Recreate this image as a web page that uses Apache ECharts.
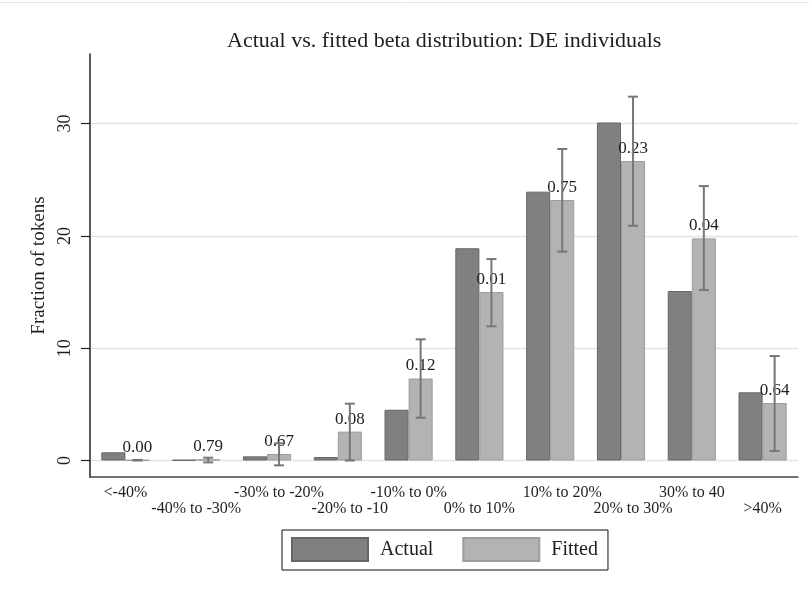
<!DOCTYPE html>
<html>
<head>
<meta charset="utf-8">
<script src="https://cdn.jsdelivr.net/npm/echarts@6/dist/echarts.min.js"></script>
<style>
html,body{margin:0;padding:0;background:#fff;}
#c{width:809px;height:592px;}
</style>
</head>
<body>
<div id="c"></div>
<script>
const categories = ['<-40%', '-40% to -30%', '-30% to -20%', '-20% to -10', '-10% to 0%', '0% to 10%', '10% to 20%', '20% to 30%', '30% to 40', '>40%'];
const actual = [0.73, 0.05, 0.37, 0.31, 4.52, 18.9, 23.94, 30.1, 15.09, 6.07];
const fitted = [0.03, 0.1, 0.58, 2.57, 7.3, 15.0, 23.2, 26.67, 19.78, 5.12];
const errLow = [0.0, -0.17, -0.43, 0.0, 3.81, 11.95, 18.6, 20.9, 15.18, 0.85];
const errHigh = [0.05, 0.25, 1.53, 5.06, 10.79, 17.94, 27.74, 32.4, 24.44, 9.3];
const pValues = ['0.00', '0.79', '0.67', '0.08', '0.12', '0.01', '0.75', '0.23', '0.04', '0.64'];
const yTicks = [0, 10, 20, 30];

const FONT = "'Liberation Serif', 'Times New Roman', serif";
const shiftedLabels = [2, 3, 6, 7];
const errData = categories.map((c, i) => [i, errLow[i], errHigh[i]]);

const chart = echarts.init(document.getElementById('c'), null, {renderer: 'canvas'});
chart.setOption({
  animation: false,
  backgroundColor: '#fff',
  textStyle: {fontFamily: FONT},
  title: {
    text: 'Actual vs. fitted beta distribution: DE individuals',
    left: 227, top: 30, padding: 0,
    textStyle: {fontFamily: FONT, fontSize: 22, fontWeight: 'normal', color: '#1e1e1e'}
  },
  graphic: [{
    type: 'line', shape: {x1: 0, y1: 2.5, x2: 809, y2: 2.5},
    style: {stroke: '#e6e6e6', lineWidth: 1}
  }],
  legend: {
    left: 282, top: 530,
    orient: 'horizontal',
    padding: [7, 10, 8, 9],
    borderColor: '#111', borderWidth: 1,
    itemWidth: 76, itemHeight: 23, itemGap: 29,
    icon: 'rect',
    textStyle: {fontFamily: FONT, fontSize: 20, color: '#1e1e1e', padding: [0, 0, 0, 7]},
    data: ['Actual', 'Fitted']
  },
  grid: {left: 90, right: 11, top: 54, bottom: 115, containLabel: false},
  xAxis: {
    type: 'category',
    data: categories,
    axisLine: {show: true, onZero: false, lineStyle: {color: '#444', width: 1.5}},
    axisTick: {show: false},
    axisLabel: {
      interval: 0, margin: 8, color: '#1e1e1e',
      fontFamily: FONT, fontSize: 16, lineHeight: 16,
      formatter: function (v, i) {
        const tok = shiftedLabels.indexOf(i) >= 0 ? '{s|' + v + '}' : '{n|' + v + '}';
        return (i % 2 ? '\n' : '') + tok;
      },
      rich: {
        n: {fontFamily: FONT, fontSize: 16, lineHeight: 16, color: '#1e1e1e'},
        s: {fontFamily: FONT, fontSize: 16, lineHeight: 16, color: '#1e1e1e', padding: [0, 0, 0, 24]}
      }
    },
    splitLine: {show: false}
  },
  yAxis: {
    type: 'value',
    min: -1.47, max: 36.2,
    name: 'Fraction of tokens',
    nameLocation: 'middle', nameGap: 35,
    nameTextStyle: {fontFamily: FONT, fontSize: 19, color: '#1e1e1e'},
    axisLine: {show: true, lineStyle: {color: '#222', width: 1.5}},
    axisTick: {show: true, inside: false, length: 9, customValues: yTicks, lineStyle: {color: '#222', width: 1.2}},
    axisLabel: {
      customValues: yTicks, rotate: 90, margin: 16,
      fontFamily: FONT, fontSize: 18, color: '#1e1e1e'
    },
    splitLine: {show: false}
  },
  series: [
    {
      name: 'Actual', type: 'bar', data: actual,
      barGap: '0%', barCategoryGap: '32%',
      itemStyle: {color: '#808080', borderColor: '#666', borderWidth: 1},
      markLine: {
        silent: true, symbol: 'none', animation: false,
        label: {show: false},
        lineStyle: {color: '#e4e4e4', width: 1.3, type: 'solid'},
        data: yTicks.map(v => ({yAxis: v})),
        z: 0
      },
      z: 2
    },
    {
      name: 'Fitted', type: 'bar', data: fitted,
      itemStyle: {color: '#b3b3b3', borderColor: '#9c9c9c', borderWidth: 1},
      label: {
        show: true, position: 'top', distance: 4,
        fontFamily: FONT, fontSize: 17, color: '#1e1e1e',
        formatter: p => pValues[p.dataIndex]
      },
      z: 2
    },
    {
      name: 'err', type: 'custom',
      data: errData,
      encode: {x: 0, y: [1, 2]},
      z: 3,
      renderItem: function (params, api) {
        const i = api.value(0);
        const lo = api.coord([i, api.value(1)]);
        const hi = api.coord([i, api.value(2)]);
        const band = api.size([1, 0])[0];
        const x = lo[0] + band * 0.17;
        const cap = 5;
        const st = {stroke: '#777', lineWidth: 2};
        return {
          type: 'group',
          children: [
            {type: 'line', shape: {x1: x, y1: lo[1], x2: x, y2: hi[1]}, style: st},
            {type: 'line', shape: {x1: x - cap, y1: lo[1], x2: x + cap, y2: lo[1]}, style: st},
            {type: 'line', shape: {x1: x - cap, y1: hi[1], x2: x + cap, y2: hi[1]}, style: st}
          ]
        };
      }
    }
  ]
});
</script>
</body>
</html>
